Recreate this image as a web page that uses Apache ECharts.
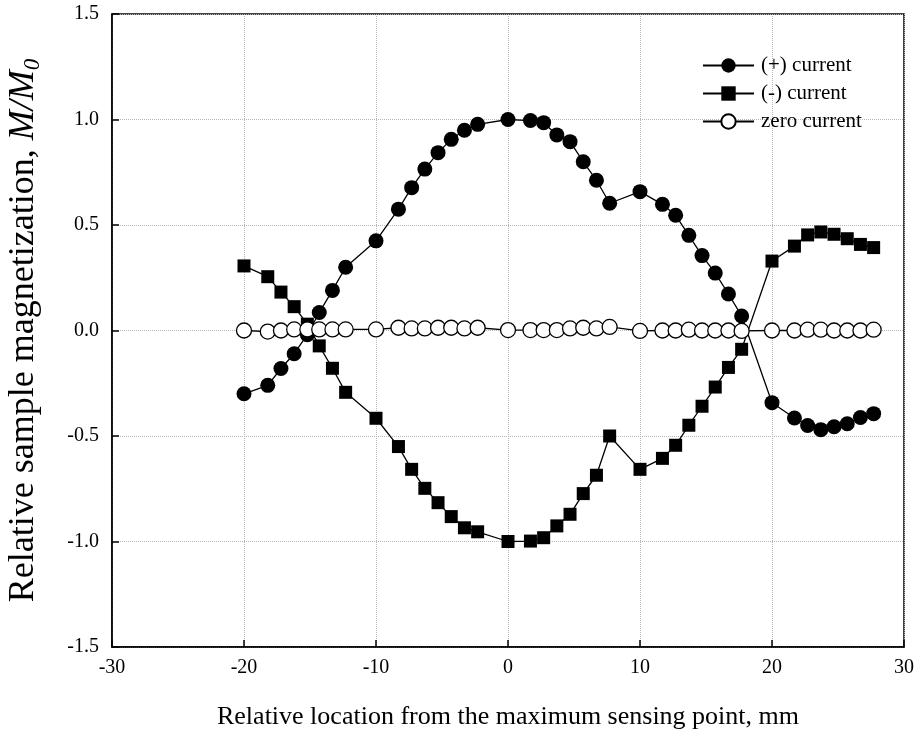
<!DOCTYPE html>
<html>
<head>
<meta charset="utf-8">
<script src="https://cdn.jsdelivr.net/npm/echarts@6/dist/echarts.min.js"></script>
<style>
  html, body { margin: 0; padding: 0; background: #fff; }
  #chart { width: 920px; height: 736px; }
</style>
</head>
<body>
<div id="chart"></div>
<script>
// position along the sensor, mm
const xPos = [-20, -18.2, -17.2, -16.2, -15.2, -14.3, -13.3, -12.3, -10, -8.3, -7.3, -6.3, -5.3, -4.3, -3.3, -2.3,
  0, 1.7, 2.7, 3.7, 4.7, 5.7, 6.7, 7.7, 10, 11.7, 12.7, 13.7, 14.7, 15.7, 16.7, 17.7,
  20, 21.7, 22.7, 23.7, 24.7, 25.7, 26.7, 27.7];

const plusCurrent = [-0.30, -0.26, -0.18, -0.11, -0.02, 0.085, 0.19, 0.30, 0.425, 0.575, 0.677, 0.765, 0.843, 0.906, 0.949, 0.977,
  1.0, 0.995, 0.985, 0.927, 0.895, 0.80, 0.712, 0.603, 0.658, 0.598, 0.546, 0.451, 0.355, 0.272, 0.173, 0.069,
  -0.342, -0.415, -0.45, -0.47, -0.456, -0.442, -0.412, -0.394];

const minusCurrent = [0.306, 0.255, 0.182, 0.113, 0.03, -0.073, -0.179, -0.293, -0.416, -0.55, -0.658, -0.748, -0.816, -0.882, -0.935, -0.954,
  -1.0, -0.998, -0.982, -0.926, -0.871, -0.773, -0.686, -0.5, -0.658, -0.606, -0.544, -0.449, -0.359, -0.268, -0.175, -0.089,
  0.329, 0.40, 0.453, 0.467, 0.456, 0.435, 0.408, 0.393];

const zeroCurrent = [0, -0.005, 0, 0.005, 0.005, 0.005, 0.005, 0.005, 0.005, 0.013, 0.01, 0.01, 0.013, 0.013, 0.01, 0.013,
  0.002, 0.002, 0.002, 0.002, 0.01, 0.013, 0.01, 0.017, -0.002, 0, 0, 0.004, 0, 0, 0, -0.002,
  0, 0, 0.004, 0.004, 0, 0, 0, 0.004];

const seriesNames = ['(+) current', '(-) current', 'zero current'];

const font = 'Liberation Serif';
const pairs = (ys) => xPos.map((x, i) => [x, ys[i]]);

let myChart = echarts.init(document.getElementById('chart'));

let option = {
  animation: false,
  backgroundColor: '#fff',
  textStyle: { fontFamily: font, color: '#000' },
  grid: {
    left: 112, right: 16, top: 14, bottom: 89,
    outerBoundsMode: 'none',
    show: true, borderColor: '#000', borderWidth: 1.5
  },
  legend: {
    orient: 'vertical',
    left: 697, top: 50,
    itemWidth: 51, itemHeight: 18, itemGap: 7,
    textStyle: { fontFamily: font, fontSize: 21, color: '#000', lineHeight: 21, padding: [0, 0, 0, 2] },
    data: seriesNames
  },
  xAxis: {
    type: 'value',
    min: -30, max: 30, interval: 10,
    name: 'Relative location from the maximum sensing point, mm',
    nameLocation: 'middle',
    nameGap: 57,
    nameTextStyle: { fontFamily: font, fontSize: 26, color: '#000', verticalAlign: 'top' },
    axisLine: { onZero: false, lineStyle: { color: '#000', width: 1.5 } },
    axisTick: { inside: true, length: 7, lineStyle: { color: '#000', width: 1.5 } },
    axisLabel: { fontFamily: font, fontSize: 20, color: '#000', margin: 11 },
    splitLine: { show: true, lineStyle: { type: 'dotted', color: '#b8b8b8', width: 1 } }
  },
  yAxis: {
    type: 'value',
    min: -1.5, max: 1.5, interval: 0.5,
    name: '{a|Relative sample magnetization, }{i|M/M}{s|0}',
    nameLocation: 'middle',
    nameGap: 68,
    nameRotate: 90,
    nameTextStyle: {
      rich: {
        a: { fontFamily: font, fontSize: 36, color: '#000', lineHeight: 40 },
        i: { fontFamily: font, fontSize: 36, fontStyle: 'italic', color: '#000', lineHeight: 40 },
        s: { fontFamily: font, fontSize: 23, fontStyle: 'italic', color: '#000', lineHeight: 23, verticalAlign: 'bottom' }
      }
    },
    axisLine: { onZero: false, lineStyle: { color: '#000', width: 1.5 } },
    axisTick: { inside: true, length: 7, lineStyle: { color: '#000', width: 1.5 } },
    axisLabel: { fontFamily: font, fontSize: 20, color: '#000', margin: 13, formatter: v => v.toFixed(1) },
    splitLine: { show: true, lineStyle: { type: 'dotted', color: '#b8b8b8', width: 1 } }
  },
  series: [
    {
      name: seriesNames[0],
      type: 'line',
      data: pairs(plusCurrent),
      symbol: 'circle',
      symbolSize: 15,
      itemStyle: { color: '#000' },
      lineStyle: { color: '#000', width: 1.3 },
      emphasis: { disabled: true }
    },
    {
      name: seriesNames[1],
      type: 'line',
      data: pairs(minusCurrent),
      symbol: 'rect',
      symbolSize: 13,
      itemStyle: { color: '#000' },
      lineStyle: { color: '#000', width: 1.3 },
      emphasis: { disabled: true }
    },
    {
      name: seriesNames[2],
      type: 'line',
      data: pairs(zeroCurrent),
      symbol: 'circle',
      symbolSize: 15,
      itemStyle: { color: '#fff', borderColor: '#000', borderWidth: 1.3 },
      lineStyle: { color: '#000', width: 1.3 },
      emphasis: { disabled: true }
    }
  ]
};

myChart.setOption(option);
</script>
</body>
</html>
